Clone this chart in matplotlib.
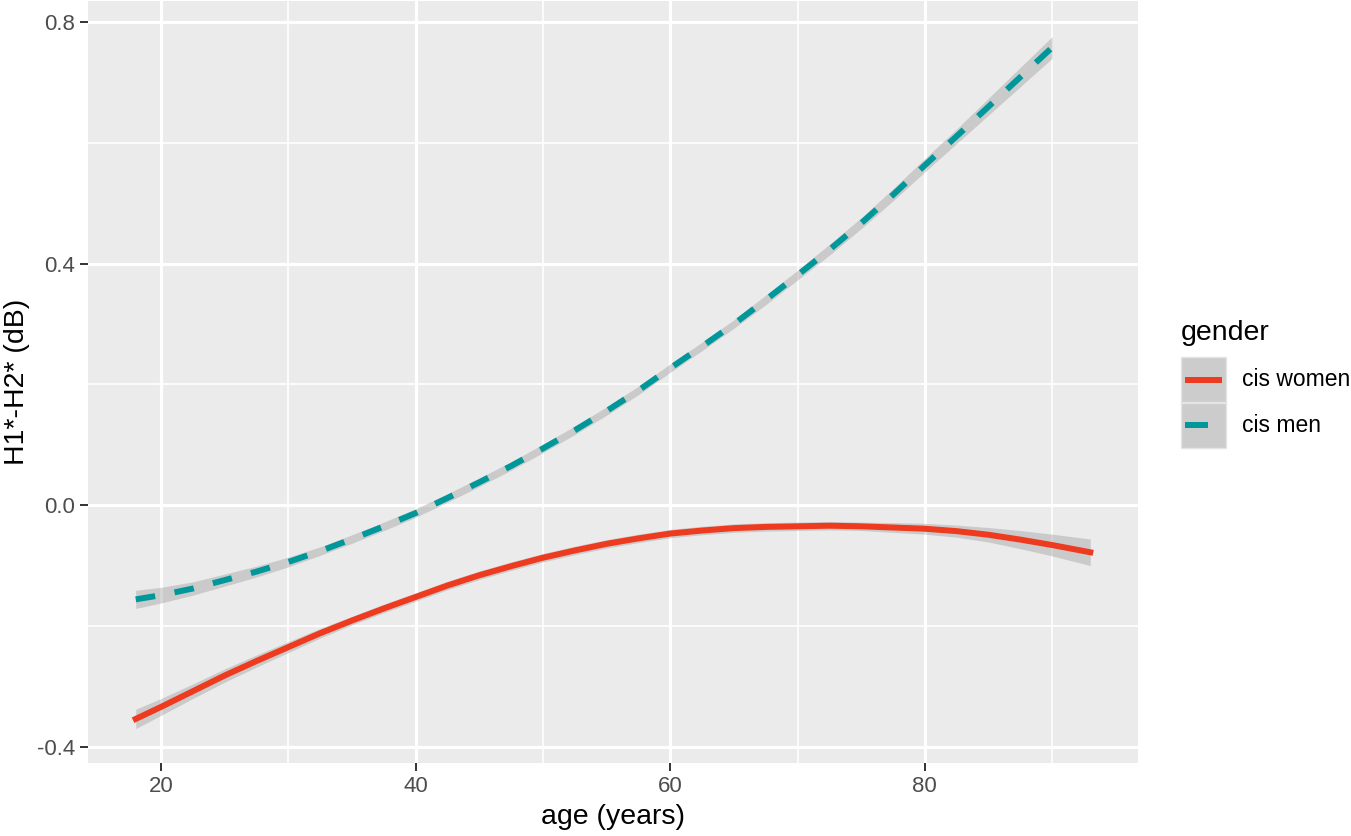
import numpy as np
import matplotlib
matplotlib.use("Agg")
import matplotlib.pyplot as plt
from matplotlib.patches import Rectangle
from matplotlib.lines import Line2D

# values
age_women = [18, 20, 22.5, 25, 27.5, 30, 32.5, 35, 37.5, 40, 42.5, 45, 47.5, 50, 52.5,
             55, 57.5, 60, 62.5, 65, 67.5, 70, 72.5, 75, 77.5, 80, 82.5, 85, 87.5, 90, 93]
fit_women = [-0.354, -0.334, -0.308, -0.282, -0.258, -0.235, -0.212, -0.191, -0.171,
             -0.152, -0.133, -0.116, -0.101, -0.087, -0.075, -0.064, -0.055, -0.047,
             -0.042, -0.038, -0.036, -0.035, -0.034, -0.035, -0.037, -0.039, -0.043,
             -0.049, -0.057, -0.066, -0.078]
se_women = [0.016, 0.014, 0.012, 0.011, 0.010, 0.009, 0.008,
            0.007, 0.007, 0.007, 0.007, 0.007, 0.007, 0.007, 0.007, 0.007, 0.007,
            0.007, 0.007, 0.007, 0.007, 0.007, 0.007, 0.007,
            0.008, 0.009, 0.010, 0.012, 0.015, 0.018, 0.022]

age_men = [18, 20, 22.5, 25, 27.5, 30, 32.5, 35, 37.5, 40, 42.5, 45, 47.5, 50, 52.5,
           55, 57.5, 60, 62.5, 65, 67.5, 70, 72.5, 75, 77.5, 80, 82.5, 85, 87.5, 90]
fit_men = [-0.156, -0.149, -0.138, -0.124, -0.110, -0.094, -0.076, -0.056, -0.035,
           -0.013, 0.012, 0.038, 0.065, 0.094, 0.124, 0.156, 0.190, 0.227, 0.263,
           0.300, 0.340, 0.381, 0.423, 0.467, 0.514, 0.563, 0.611, 0.660, 0.709, 0.758]
se_men = [0.015, 0.013, 0.011, 0.010, 0.009, 0.008,
          0.007, 0.007, 0.007, 0.007, 0.007, 0.007, 0.007, 0.007, 0.007, 0.007,
          0.007, 0.007, 0.007, 0.007,
          0.008, 0.008, 0.009, 0.009, 0.010, 0.011, 0.012, 0.014, 0.016, 0.018]

groups = ["cis women", "cis men"]
colors = ["#EE3A1E", "#00979A"]
x_ticks = [20, 40, 60, 80]
y_ticks = [-0.4, 0.0, 0.4, 0.8]
y_tick_labels = ["-0.4", "0.0", "0.4", "0.8"]

plt.rcParams["font.family"] = ["Liberation Sans", "DejaVu Sans"]

W, H = 1351, 836
fig = plt.figure(figsize=(W / 100, H / 100), dpi=100)
ax = fig.add_axes([88 / W, 1 - 763 / H, (1138 - 88) / W, (763 - 1) / H])
ax.set_facecolor("#EBEBEB")
for s in ax.spines.values():
    s.set_visible(False)

ax.set_xlim(14.25, 96.75)
ax.set_ylim(-0.427, 0.835)

# grid
for v in [30, 50, 70, 90]:
    ax.axvline(v, color="white", lw=1.2, zorder=0)
for v in [-0.2, 0.2, 0.6]:
    ax.axhline(v, color="white", lw=1.2, zorder=0)
for v in x_ticks:
    ax.axvline(v, color="white", lw=2.3, zorder=0)
for v in y_ticks:
    ax.axhline(v, color="white", lw=2.3, zorder=0)

series = [(age_women, fit_women, se_women), (age_men, fit_men, se_men)]
styles = ["-", (0, (3.3, 3.3))]
for (a, f, s), c, ls in zip(series, colors, styles):
    a = np.array(a)
    f = np.array(f)
    s = np.array(s)
    ax.fill_between(a, f - s, f + s, color="#999999", alpha=0.4, lw=0, zorder=2)
    ax.plot(a, f, color=c, lw=4.3, linestyle=ls, dash_capstyle="butt",
            solid_joinstyle="round", zorder=3)

ax.set_xticks(x_ticks)
ax.set_yticks(y_ticks)
ax.set_yticklabels(y_tick_labels)
ax.tick_params(axis="both", length=5.5, width=1.4, color="#333333",
               labelsize=16, labelcolor="#4D4D4D", pad=4)
ax.set_xlabel("age (years)", fontsize=20.5, color="black", labelpad=5)
ax.set_ylabel("H1*-H2* (dB)", fontsize=20.5, color="black", labelpad=5)

# legend drawn by hand, ggplot style
fig.text(1181 / W, 1 - 333 / H, "gender", fontsize=20.5, va="center", ha="left")
key_top = 357
key_h = 45.5
for i, (g, c) in enumerate(zip(groups, colors)):
    y0 = key_top + i * key_h
    fig.patches.append(Rectangle((1181 / W, 1 - (y0 + key_h) / H), 45 / W, key_h / H,
                                 transform=fig.transFigure, facecolor="#CCCCCC",
                                 edgecolor="#E4E4E4", lw=1.0))
    yc = 1 - (y0 + key_h / 2) / H
    x_end = 1222 if i == 0 else 1208
    fig.lines.append(Line2D([1185 / W, x_end / W], [yc, yc], transform=fig.transFigure,
                            color=c, lw=4.3, solid_capstyle="butt"))
    fig.text(1242 / W, yc, g, fontsize=16.5, va="center", ha="left")

fig.savefig("out.png", dpi=100, facecolor="white")
